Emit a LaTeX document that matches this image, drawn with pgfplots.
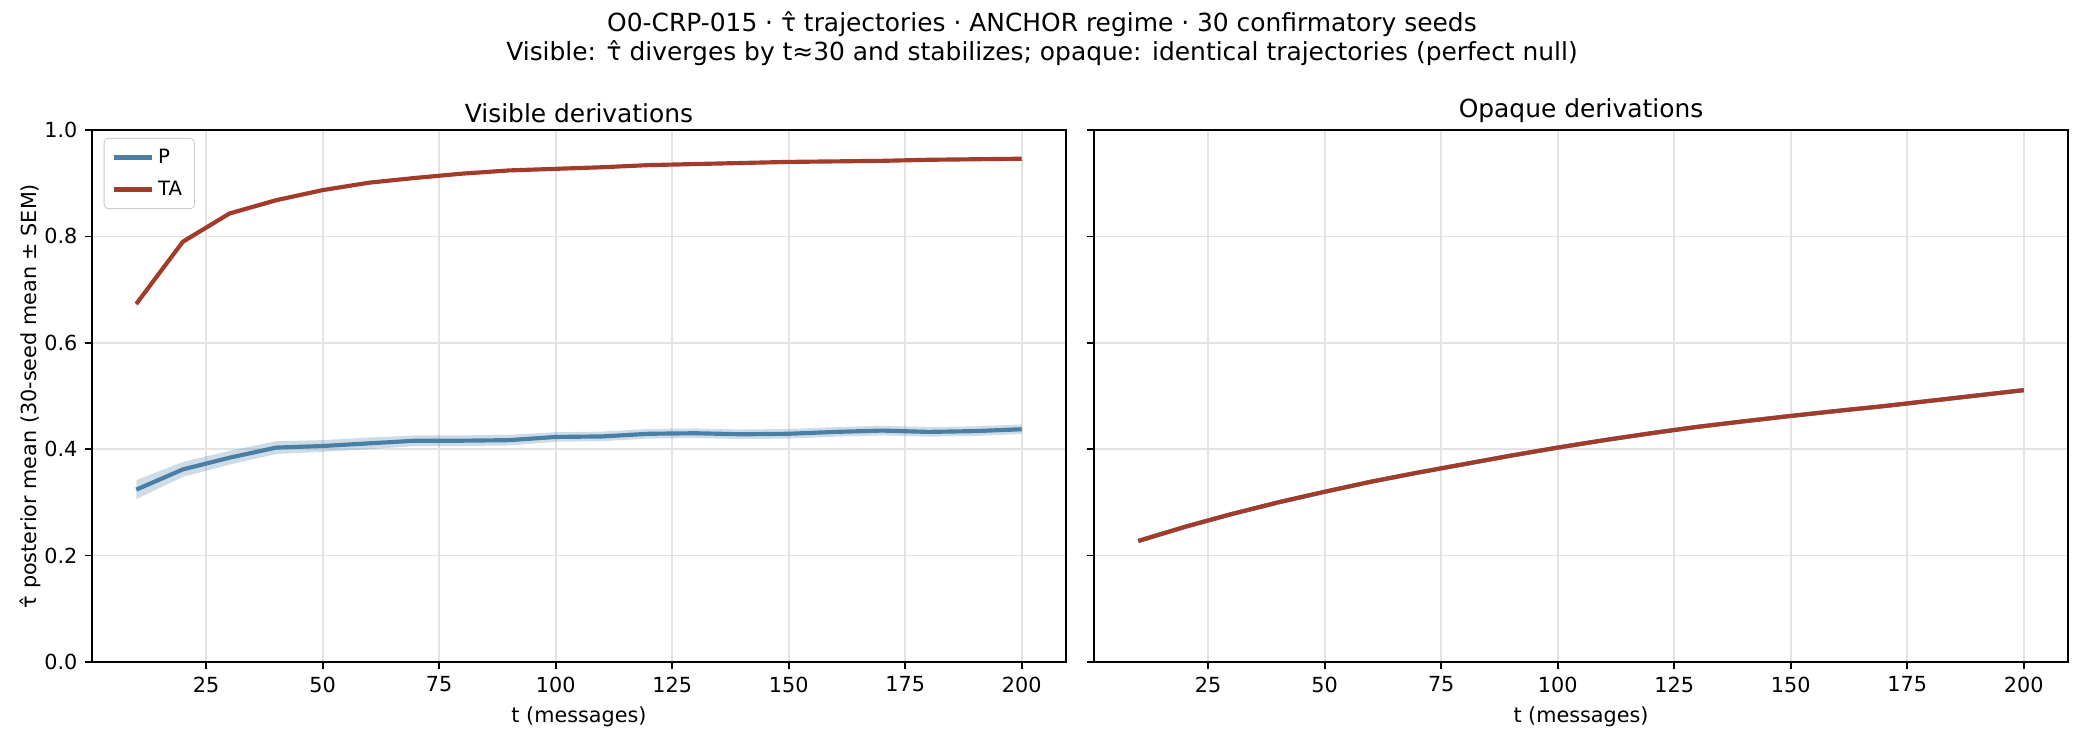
\documentclass[border=0pt]{standalone}
\usepackage{fontspec}
\setmainfont{DejaVu Sans}
\usepackage{pgfplots}
\pgfplotsset{compat=1.18}
\usepackage{pgfplotstable}
\usepgfplotslibrary{fillbetween}

\definecolor{pblue}{HTML}{4A7FA5}
\definecolor{tared}{HTML}{A33B2B}
\definecolor{gridc}{HTML}{E3E3E3}

% visible derivations: t, P mean, P sem, TA mean, TA sem
\pgfplotstableread{
t   Pm     Pse    TAm    TAse
10  0.324  0.018  0.673  0.006
20  0.362  0.014  0.790  0.005
30  0.384  0.013  0.843  0.004
40  0.403  0.012  0.868  0.004
50  0.406  0.011  0.887  0.003
60  0.411  0.011  0.901  0.003
70  0.416  0.010  0.910  0.003
80  0.416  0.010  0.918  0.003
90  0.417  0.010  0.924  0.003
100 0.423  0.009  0.927  0.002
110 0.424  0.009  0.930  0.002
120 0.429  0.009  0.934  0.002
130 0.430  0.009  0.936  0.002
140 0.428  0.009  0.938  0.002
150 0.429  0.009  0.940  0.002
160 0.4325 0.009  0.941  0.002
170 0.435  0.009  0.942  0.002
180 0.4325 0.009  0.944  0.002
190 0.434  0.009  0.945  0.002
200 0.4375 0.009  0.946  0.002
}\visible

% opaque derivations: identical trajectories
\pgfplotstableread{
t   Pm     Pse    TAm    TAse
10  0.2275 0.002  0.2275 0.002
20  0.254  0.002  0.254  0.002
30  0.278  0.002  0.278  0.002
40  0.300  0.002  0.300  0.002
50  0.320  0.002  0.320  0.002
60  0.339  0.002  0.339  0.002
70  0.356  0.002  0.356  0.002
80  0.372  0.002  0.372  0.002
90  0.388  0.002  0.388  0.002
100 0.403  0.002  0.403  0.002
110 0.417  0.002  0.417  0.002
120 0.430  0.002  0.430  0.002
130 0.442  0.002  0.442  0.002
140 0.4525 0.002  0.4525 0.002
150 0.4625 0.002  0.4625 0.002
160 0.472  0.002  0.472  0.002
170 0.481  0.002  0.481  0.002
180 0.491  0.002  0.491  0.002
190 0.501  0.002  0.501  0.002
200 0.511  0.002  0.511  0.002
}\opaque

\pgfplotsset{
  panel/.style={
    scale only axis,
    width=467.52bp, height=255.36bp,
    xmin=0.5, xmax=209.5, ymin=0, ymax=1,
    xtick={25,50,...,200},
    ytick={0,0.2,...,1.0},
    /pgf/number format/assume math mode=true,
    tick label style={font=\fontsize{10}{12}\selectfont, text=black},
    label style={font=\fontsize{10}{12}\selectfont},
    title style={font=\fontsize{12}{14}\selectfont, yshift=-6pt},
    tick align=outside, tick pos=left,
    major tick length=3.5pt,
    every tick/.style={black, line width=0.8pt},
    axis line style={black, line width=0.8pt},
    grid=major,
    major grid style={gridc, line width=0.8pt},
    xlabel={t (messages)},
  },
}

\newcommand{\bands}[1]{%
  \addplot [name path=pu, draw=none, forget plot] table [x=t, y expr=\thisrow{Pm}+\thisrow{Pse}] {#1};
  \addplot [name path=pl, draw=none, forget plot] table [x=t, y expr=\thisrow{Pm}-\thisrow{Pse}] {#1};
  \addplot [pblue, fill opacity=0.27, draw opacity=0.35, line width=0.6pt, forget plot] fill between [of=pu and pl];
  \addplot [name path=tu, draw=none, forget plot] table [x=t, y expr=\thisrow{TAm}+\thisrow{TAse}] {#1};
  \addplot [name path=tl, draw=none, forget plot] table [x=t, y expr=\thisrow{TAm}-\thisrow{TAse}] {#1};
  \addplot [tared, fill opacity=0.27, draw opacity=0.35, line width=0.6pt, forget plot] fill between [of=tu and tl];
}

\begin{document}
\begin{tikzpicture}
\path (0,0) rectangle (1000.32bp,355.2bp);

\node[font=\fontsize{12}{14}\selectfont] at (500.16bp,343.7bp) {O0-CRP-015 · τ̂ trajectories · ANCHOR regime · 30 confirmatory seeds};
\node[font=\fontsize{12}{14}\selectfont] at (500.16bp,329.8bp) {Visible: τ̂ diverges by t≈30 and stabilizes; opaque: identical trajectories (perfect null)};

\begin{axis}[panel,
  at={(44.16bp,37.44bp)}, anchor=south west,
  title={Visible derivations},
  yticklabel style={/pgf/number format/fixed,/pgf/number format/fixed zerofill,/pgf/number format/precision=1},
  ylabel={τ̂ posterior mean (30-seed mean ± SEM)},
  ylabel shift=-5pt,
  legend style={at={(0.012,0.985)}, anchor=north west, font=\fontsize{9.5}{11}\selectfont,
    draw=black!20, rounded corners=2pt, fill=white,
    inner xsep=4pt, inner ysep=3pt, row sep=3pt},
  legend cell align=left,
  legend image code/.code={\draw[#1] (0pt,0pt) -- (18pt,0pt);},
]
\bands{\visible}
\addplot [pblue, line width=2pt] table [x=t, y=Pm] {\visible};
\addlegendentry{P}
\addplot [tared, line width=2pt] table [x=t, y=TAm] {\visible};
\addlegendentry{TA}
\end{axis}

\begin{axis}[panel,
  at={(525.12bp,37.44bp)}, anchor=south west,
  title={Opaque derivations},
  yticklabels={},
]
\bands{\opaque}
\addplot [pblue, line width=2pt] table [x=t, y=Pm] {\opaque};
\addplot [tared, line width=2pt] table [x=t, y=TAm] {\opaque};
\end{axis}
\end{tikzpicture}
\end{document}
